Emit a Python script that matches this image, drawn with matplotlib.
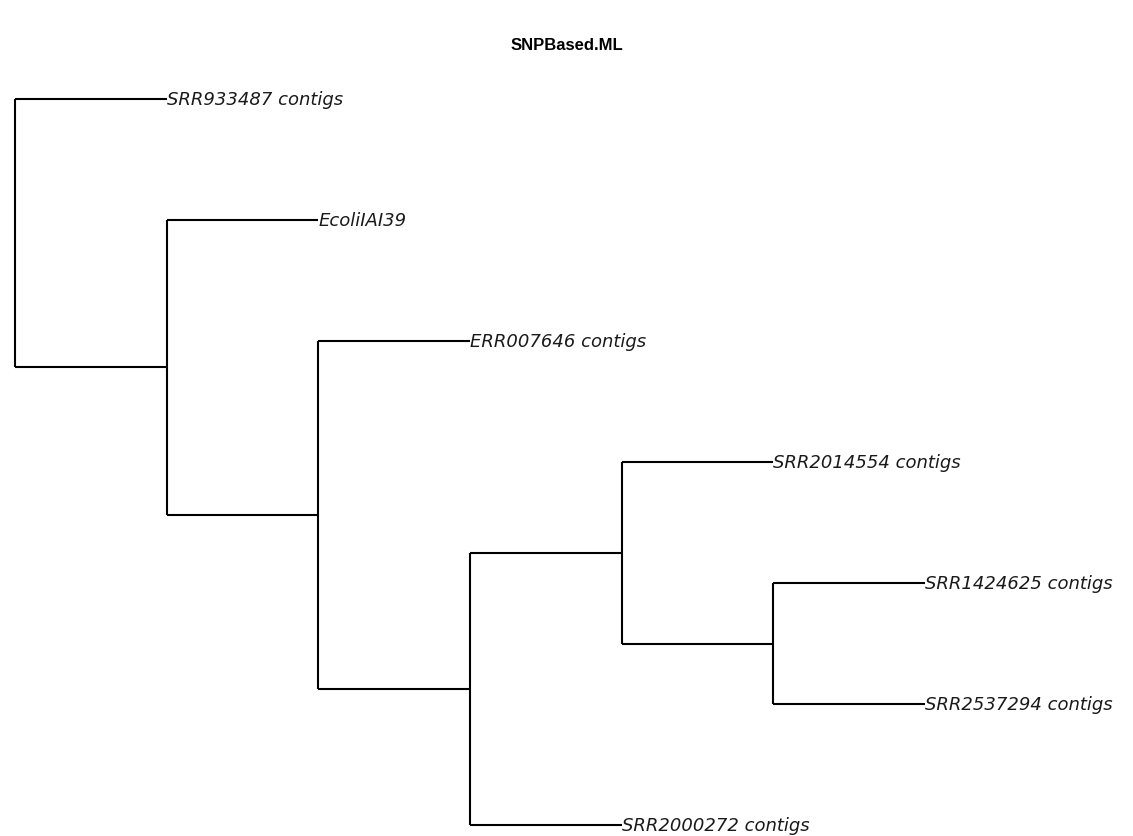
import matplotlib
matplotlib.use("Agg")
import matplotlib.pyplot as plt

# Tree topology (nested pairs), every branch has unit length (cladogram)
tree = ("SRR933487 contigs",
        ("EcoliIAI39",
         ("ERR007646 contigs",
          (("SRR2014554 contigs",
            ("SRR1424625 contigs", "SRR2537294 contigs")),
           "SRR2000272 contigs"))))
branch_length = 1.0
title = "SNPBased.ML"

fig = plt.figure(figsize=(11.33, 8.37), dpi=100)
ax = fig.add_axes([0, 0, 1, 1])

tips = []
tip_x = {}
segments = []


def layout(node, depth):
    """Return y of node; collect drawing segments and tip positions."""
    if isinstance(node, str):
        tips.append(node)
        tip_x[node] = depth
        return float(len(tips))
    ys = []
    for child in node:
        cx = depth + branch_length
        cy = layout(child, cx)
        ys.append(cy)
        segments.append(((depth, cx), (cy, cy)))
    segments.append(((depth, depth), (min(ys), max(ys))))
    return (min(ys) + max(ys)) / 2.0


layout(tree, 0.0)

for xs, ys in segments:
    ax.plot(xs, ys, color="black", lw=1.5, solid_capstyle="butt")

for i, name in enumerate(tips, start=1):
    ax.text(tip_x[name], i, name, ha="left", va="center", fontsize=13,
            style="italic", family="DejaVu Sans", color="#1a1a1a")

unit = 151.67
ax.set_xlim(-15 / unit, (1133 - 15) / unit)
ax.set_ylim(7 + 11 / 121, 1 - 100 / 121)
ax.axis("off")

fig.text(0.5, 1 - 45 / 837, title, ha="center", va="center",
         fontsize=12, fontweight="bold", family="Liberation Sans")

fig.savefig("out.png", dpi=100)
